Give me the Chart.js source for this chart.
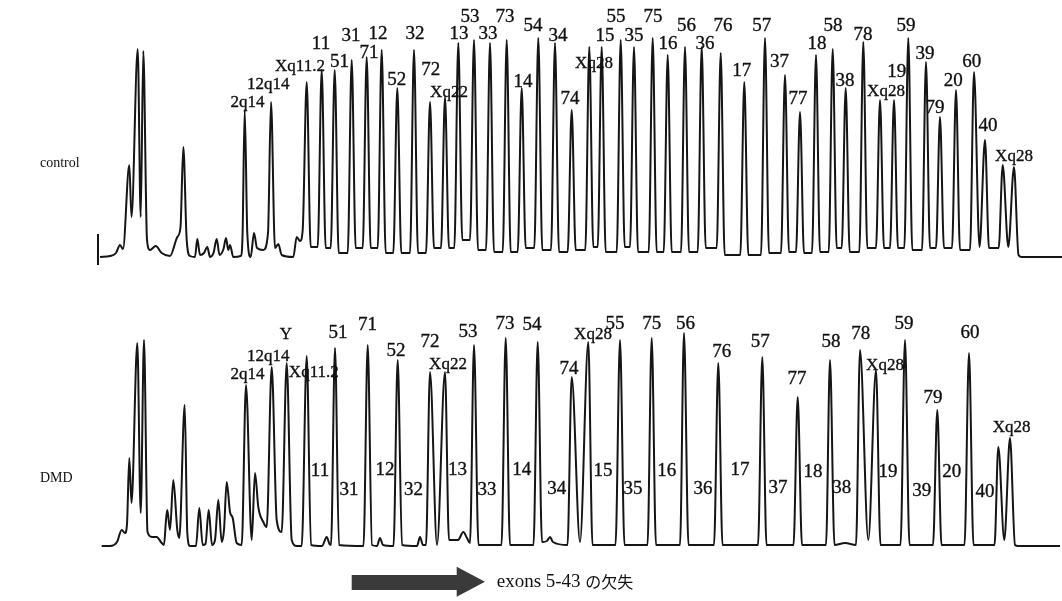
<!DOCTYPE html>
<html><head><meta charset="utf-8">
<script src="https://cdn.jsdelivr.net/npm/chart.js@4/dist/chart.umd.min.js"></script>
<style>html,body{margin:0;padding:0;background:#fff;}#wrap{position:relative;width:1062px;height:601px;}canvas{display:block;}</style>
</head><body><div id="wrap"><canvas id="c" width="1062" height="601"></canvas></div>
<script>
// ---- control trace: apexes and floor/shoulder vertices [migration, intensity] ----
const ctrlPeaks = [[120,12],[129.3,92],[137.7,208],[143.3,206],[155.7,11],[183.3,110],[197.3,18],[207.3,10],[216.7,18],[226,19],[230,12],[244.7,147],[254,24],[271,155],[278.3,13],[296.7,20],
[306.7,175],[321.7,187],[334.7,187],[351.7,197],[366.7,200],[381.7,207],[397.3,169],[414,207],[430,155],[445,160],[458.3,214],[474,217],[490,214],[506.7,217],[521.7,169],[538.3,219],[555,214],[571.7,147],[589.3,210],[601.7,210],[620.7,217],[634,210],[652.7,219],[667.7,202],[685,210],[701.7,210],[720.7,204],[744.3,175],[765,219],[785,182],[800,145],[816,202],[832.7,208],[845.7,169],[863.3,215],[880,157],[894,157],[908.3,219],[926,195],[940,140],[956,167],[974,185],[985,117],[1002.7,92],[1014,90]];
const ctrlValleys = [[100,0],[110,1],[116,4],[123,8],[131.5,40],[140.7,40],[147,17],[150,7],[161.7,4],[170,1],[177.3,20],[180.5,30],[186.7,17],[190,1],[195,0],[200,2],[204,4],[210,0],[213.5,4],[219.5,2],[223.5,8],[228.3,7],[233.3,0],[240.7,1],[242.5,20],[247.3,24],[250.7,0],[257,9],[263.3,7],[268,24],[275,9],[281.7,2],[293.3,0],[300,16],[302.7,27],
[310.7,10],[317.7,10],[325.7,9],[330.7,9],[338.7,4],[347.7,4],[355.7,9],[362.7,9],[370.7,9],[377.7,9],[385.7,4],[393.3,4],[401.3,4],[410,4],[418,4],[426,4],[434,9],[441,9],[449,9],[454.3,9],[462.3,17],[470,17],[478,7],[486,7],[494,5],[502.7,5],[510.7,5],[517.7,5],[525.7,9],[534.3,9],[542.3,7],[551,7],[559,5],[567.7,5],[575.7,7],[585.3,7],[593.3,10],[597.7,10],[605.7,5],[616.7,5],[624.7,10],[630,10],[638,5],[648.7,5],[656.7,5],[663.7,5],[671.7,5],[681,5],[689,5],[697.7,5],[705.7,9],[716.7,9],[724.7,2],[740.3,2],[748.3,2],[761,2],[769,4],[781,4],[789,5],[796,5],[804,4],[812,4],[820,5],[828.7,5],[836.7,9],[841.7,9],[849.7,5],[859.3,5],[867.3,9],[876,9],[884,9],[890,9],[898,9],[904.3,9],[912.3,7],[922,7],[930,9],[936,9],[944,9],[952,9],[960,7],[970,7],[979.5,10],[989,9],[998.7,9],[1008.3,10],[1018.5,2],[1022,0],[1062,0]];
const ctrlTick = [[98,23],[98,-8]];
const ctrlLabels = ['2q14','12q14','Xq11.2','11','51','31','71','12','52','32','72','Xq22','13','53','33','73','14','54','34','74','Xq28','15','55','35','75','16','56','36','76','17','57','37','77','18','58','38','78','Xq28','19','59','39','79','20','60','40','Xq28'];
const ctrlLabelPos = [[247.5,154],[268.3,172],[300,190],[321,213],[339.5,195],[351,221],[369,204],[378,223],[396.7,177],[415,223],[430.7,187],[449,164],[459,223],[470,240],[488,223],[505,240],[523,175],[533,231],[558,221],[570,158],[594,193],[605,221],[616,240],[634,221],[653,240],[668,213],[686.5,231],[705,213],[723,231],[741.7,186],[761.7,231],[779.5,195],[798,158],[817,213],[833,231],[845,176],[863,222],[886,165],[896.7,185],[906,231],[925,203],[935,149],[953.3,176],[971.7,195],[988,131],[1014,100]];

// ---- DMD trace ----
const dmdPeaks = [[121.7,16],[129.3,88],[137.3,203],[144,206],[156.7,9],[167.3,36],[173.3,66],[184.7,141],[199.3,38],[208.7,36],[218.3,46],[226.7,64],[246,161],[255,73],[271.7,179],[286.7,183],
[306.7,190],[326.7,9],[335,198],[367.7,201],[380,8],[397.7,186],[420,9],[430,174],[445,174],[463.3,14],[474,201],[505.7,208],[537.7,204],[550,9],[571.7,169],[588.3,204],[620,206],[651.7,208],[684,213],[718.3,183],[762.3,189],[797.7,149],[830,186],[860,196],[876,176],[905,206],[937.3,136],[969,193],[998.3,99],[1010,108]];
const dmdValleys = [[101.7,0],[110,0],[117,4],[125,13],[127,22],[131.5,43],[140.7,33],[147.5,14],[152,9],[161.7,3],[164,1],[166,26],[170,16],[177.3,16],[179.3,8],[187.3,13],[190,0],[196,0],[202.7,1],[205.5,2],[212,1],[215,6],[221.7,4],[224,16],[230,34],[232.7,28],[236.7,3],[241.7,1],[251.7,6],[258.3,39],[263.3,24],[266.7,19],[276.7,26],[281.7,14],[291.7,6],[296.7,0],[301.7,0],
[311,1],[322,0],[329.5,2],[331,1],[339,1],[363.5,0],[372,1],[377,0],[383,1],[393.5,0],[402,1],[417,0],[423,1],[426,1],[437,1],[449,6],[458,6],[467,8],[470,3],[478.5,1],[501.5,1],[510,1],[533.5,1],[542,4],[547,5],[553,4],[567.5,1],[580,4],[592.5,1],[615.5,1],[624.5,1],[647.5,1],[656,1],[680,1],[688.5,1],[714,1],[722.5,1],[758,1],[766.5,1],[793.5,1],[802,1],[826,1],[834.5,1],[845,3],[856,1],[868.3,6],[880.5,1],[900.5,1],[909.5,1],[933,1],[941.5,1],[964.5,1],[973.5,1],[994.5,1],[1004.3,6],[1015,1],[1018,0],[1060,0]];
const dmdLabels = ['2q14','12q14','Y','Xq11.2','51','71','52','72','Xq22','53','73','54','74','Xq28','55','75','56','76','57','77','58','78','Xq28','59','79','60','Xq28'];
const dmdLabelPos = [[247.5,171],[268.3,189],[286,211],[313.8,173],[338,213],[367.5,221],[396,195],[430,204],[448,181],[468,214],[505,222],[532,221],[569,177],[593,211],[615,222],[651.7,222],[685.5,222],[721.7,194],[760.3,204],[797,167],[831,204],[860.7,212],[885,180],[904,222],[933,148],[970,213],[1011.7,118]];
// positions where the deleted exons would have appeared
const dmdGapLabels = ['11','31','12','32','13','33','14','34','15','35','16','36','17','37','18','38','19','39','20','40'];
const dmdGapLabelPos = [[320,75],[349,56],[385,76],[413.5,56],[457.5,76],[487,56],[521.7,76],[556.7,57],[603,75],[633,57],[666.7,75],[703,57],[740,76],[778,58],[813,74],[841.7,58],[888,74],[921.7,55],[951.7,74],[985,54]];

const sampleNames = ['control','DMD'];
const sampleNamePos = [[40,94],[40,68]];
const deletionNote = ['exons 5-43 ', 'の欠失'];

function toPoints(a, b){
  return a.concat(b || []).map(p => ({x:p[0], y:p[1]})).sort((p,q) => p.x - q.x);
}

const SERIF = '"Liberation Serif","DejaVu Serif",serif';
const labelPlugin = {
  id:'peakLabels',
  afterDatasetsDraw(chart){
    const {ctx, scales} = chart;
    const xs = scales.x, yc = scales.yCtrl, yd = scales.yDmd;
    ctx.save();
    ctx.fillStyle = '#111';
    ctx.strokeStyle = '#111';
    ctx.lineWidth = 0.35;
    ctx.textAlign = 'center';
    ctx.textBaseline = 'middle';
    const draw = (labels, pos, ys) => labels.forEach((t,i) => {
      const num = /^\d+$/.test(t);
      ctx.font = (num ? '19px ' : '17px ') + SERIF;
      const px = xs.getPixelForValue(pos[i][0]), py = ys.getPixelForValue(pos[i][1]);
      ctx.fillText(t, px, py);
      ctx.strokeText(t, px, py);
    });
    draw(ctrlLabels, ctrlLabelPos, yc);
    draw(dmdLabels, dmdLabelPos, yd);
    draw(dmdGapLabels, dmdGapLabelPos, yd);
    // sample names
    ctx.textAlign = 'left';
    ctx.font = '14px ' + SERIF;
    ctx.fillText(sampleNames[0], xs.getPixelForValue(sampleNamePos[0][0]), yc.getPixelForValue(sampleNamePos[0][1]));
    ctx.fillText(sampleNames[1], xs.getPixelForValue(sampleNamePos[1][0]), yd.getPixelForValue(sampleNamePos[1][1]));
    // deletion arrow
    const ax0 = xs.getPixelForValue(351.7), ax1 = xs.getPixelForValue(456.7), ax2 = xs.getPixelForValue(485);
    const yMid = yd.getPixelForValue(-35.7);
    const bodyT = yd.getPixelForValue(-29), bodyB = yd.getPixelForValue(-44);
    const headT = yd.getPixelForValue(-20.7), headB = yd.getPixelForValue(-50.7);
    ctx.fillStyle = '#3a3a3a';
    ctx.beginPath();
    ctx.moveTo(ax0, bodyT); ctx.lineTo(ax1, bodyT); ctx.lineTo(ax1, headT); ctx.lineTo(ax2, yMid);
    ctx.lineTo(ax1, headB); ctx.lineTo(ax1, bodyB); ctx.lineTo(ax0, bodyB); ctx.closePath();
    ctx.fill();
    ctx.fillStyle = '#111';
    const tx = xs.getPixelForValue(496.7);
    ctx.font = '19px ' + SERIF;
    ctx.fillText(deletionNote[0], tx, yMid);
    const w = ctx.measureText(deletionNote[0]).width;
    ctx.font = '16px "Noto Sans CJK JP", sans-serif';
    ctx.fillText(deletionNote[1], tx + w, yMid);
    ctx.restore();
  }
};

const lineStyle = {borderColor:'#151515', borderWidth:2, pointRadius:0, cubicInterpolationMode:'monotone', fill:false};
new Chart(document.getElementById('c'), {
  type:'line',
  data:{datasets:[
    Object.assign({label:'control', data:toPoints(ctrlPeaks, ctrlValleys), yAxisID:'yCtrl'}, lineStyle),
    Object.assign({label:'control axis tick', data:toPoints(ctrlTick), yAxisID:'yCtrl'}, lineStyle, {cubicInterpolationMode:'default', tension:0}),
    Object.assign({label:'DMD', data:toPoints(dmdPeaks, dmdValleys), yAxisID:'yDmd'}, lineStyle)
  ]},
  options:{
    responsive:false, animation:false, devicePixelRatio:1, events:[],
    layout:{padding:0},
    plugins:{legend:{display:false}, tooltip:{enabled:false}},
    scales:{
      x:{type:'linear', min:0, max:1062, display:false},
      yCtrl:{type:'linear', min:-344, max:257, display:false},
      yDmd:{type:'linear', min:-55, max:546, display:false}
    }
  },
  plugins:[labelPlugin]
});
</script></body></html>
